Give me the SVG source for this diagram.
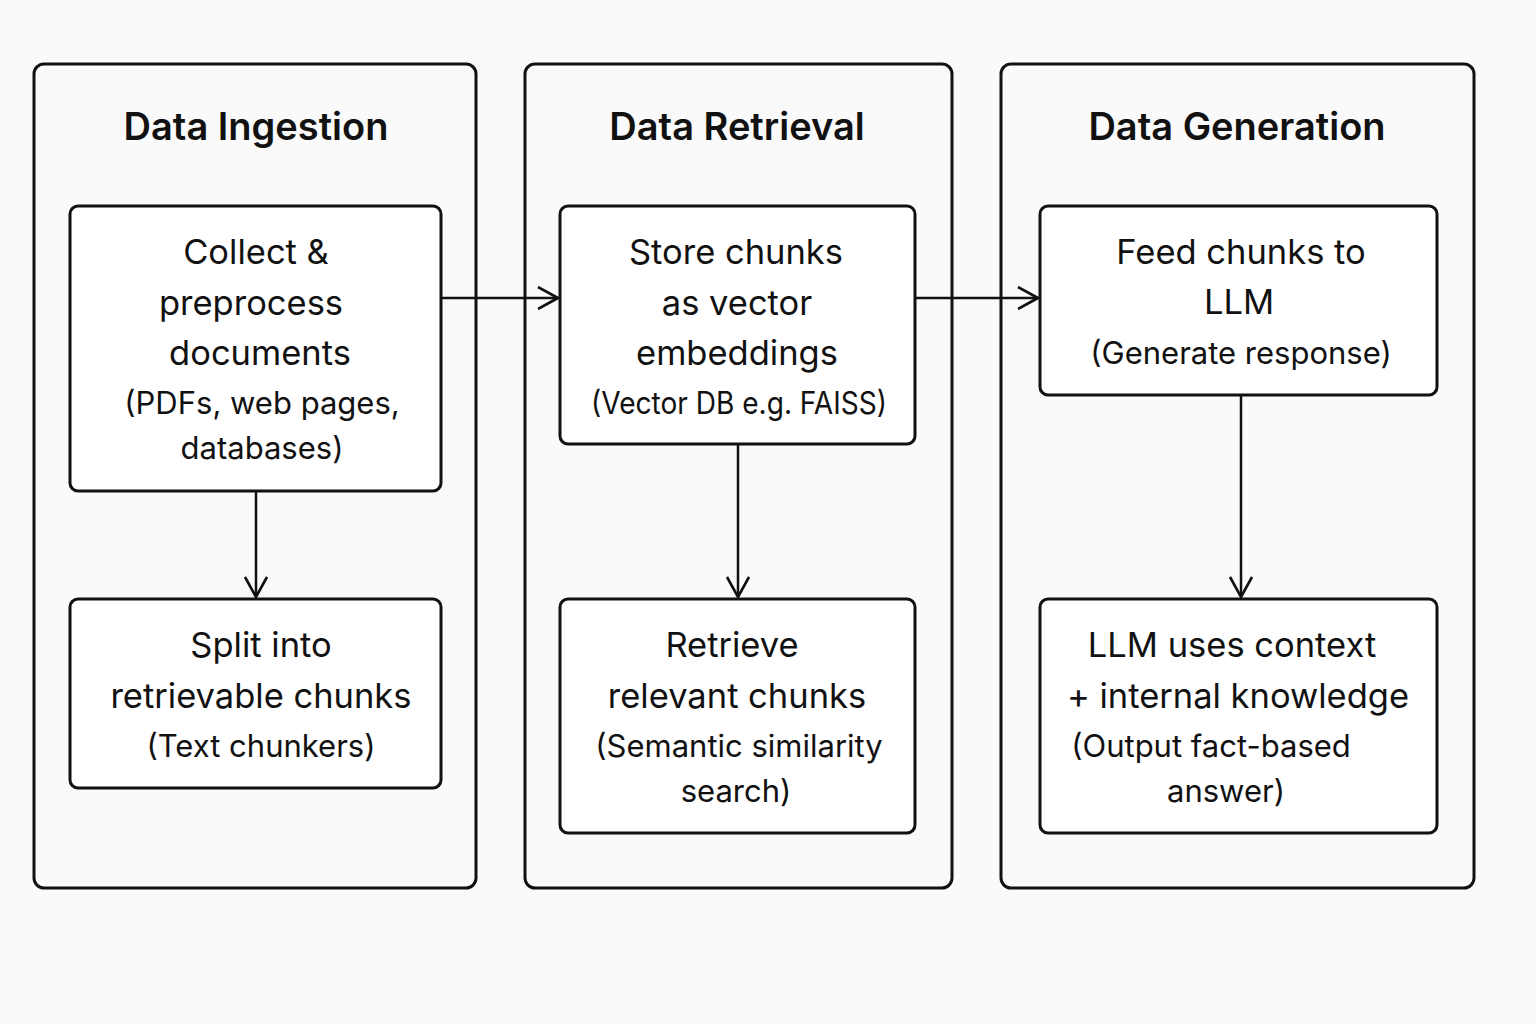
<svg xmlns="http://www.w3.org/2000/svg" width="1536" height="1024" viewBox="0 0 1536 1024">
<defs>
<style>
.panel{fill:none;stroke:#111;stroke-width:3}
.node{fill:#fff;stroke:#111;stroke-width:3}
.title{font-family:Inter,"Liberation Sans",sans-serif;font-size:38px;font-weight:600;fill:#111;text-anchor:middle}
.t{font-family:Inter,"Liberation Sans",sans-serif;font-size:34.5px;fill:#111;text-anchor:middle}
.s{font-family:Inter,"Liberation Sans",sans-serif;font-size:31px;fill:#111;text-anchor:middle}
.edge{fill:none;stroke:#111;stroke-width:2.5}
</style>
<marker id="arrbig" viewBox="0 0 24 24" refX="22" refY="12" markerWidth="24" markerHeight="24" markerUnits="userSpaceOnUse" orient="auto">
<path d="M2,1 L22,12 L2,23" fill="none" stroke="#111" stroke-width="2.6"/>
</marker>
</defs>
<rect width="1536" height="1024" fill="#fafafa"/>
<g id="panel-ingestion">
<rect class="panel" x="34" y="64" width="442" height="824" rx="10"/>
<text class="title" x="256" y="140">Data Ingestion</text>
</g>
<g id="panel-retrieval">
<rect class="panel" x="525" y="64" width="427" height="824" rx="10"/>
<text class="title" x="737" y="140">Data Retrieval</text>
</g>
<g id="panel-generation">
<rect class="panel" x="1001" y="64" width="473" height="824" rx="10"/>
<text class="title" x="1237" y="140">Data Generation</text>
</g>
<g id="connectors">
<line class="edge" x1="441" y1="298" x2="558" y2="298" marker-end="url(#arrbig)"/>
<line class="edge" x1="915" y1="298" x2="1038" y2="298" marker-end="url(#arrbig)"/>
<line class="edge" x1="256" y1="491" x2="256" y2="597" marker-end="url(#arrbig)"/>
<line class="edge" x1="738" y1="444" x2="738" y2="597" marker-end="url(#arrbig)"/>
<line class="edge" x1="1241" y1="395" x2="1241" y2="597" marker-end="url(#arrbig)"/>
</g>
<g id="node-collect">
<rect class="node" x="70" y="206" width="371" height="285" rx="8"/>
<text class="t" x="256" y="264">Collect &amp;</text>
<text class="t" x="251" y="315">preprocess</text>
<text class="t" x="260" y="365">documents</text>
<text class="s" x="262" y="414">(PDFs, web pages,</text>
<text class="s" x="262" y="459">databases)</text>
</g>
<g id="node-split">
<rect class="node" x="70" y="599" width="371" height="189" rx="8"/>
<text class="t" x="261" y="657">Split into</text>
<text class="t" x="261" y="708">retrievable chunks</text>
<text class="s" x="261" y="757">(Text chunkers)</text>
</g>
<g id="node-store">
<rect class="node" x="560" y="206" width="355" height="238" rx="8"/>
<text class="t" x="736" y="264">Store chunks</text>
<text class="t" x="737" y="315">as vector</text>
<text class="t" x="737" y="365">embeddings</text>
<text class="s" x="739" y="414" textLength="296" lengthAdjust="spacingAndGlyphs">(Vector DB e.g. FAISS)</text>
</g>
<g id="node-retrieve">
<rect class="node" x="560" y="599" width="355" height="234" rx="8"/>
<text class="t" x="732" y="657">Retrieve</text>
<text class="t" x="737" y="708">relevant chunks</text>
<text class="s" x="739" y="757">(Semantic similarity</text>
<text class="s" x="736" y="802">search)</text>
</g>
<g id="node-feed">
<rect class="node" x="1040" y="206" width="397" height="189" rx="8"/>
<text class="t" x="1241" y="264">Feed chunks to</text>
<text class="t" x="1239" y="314">LLM</text>
<text class="s" x="1241" y="364">(Generate response)</text>
</g>
<g id="node-llm">
<rect class="node" x="1040" y="599" width="397" height="234" rx="8"/>
<text class="t" x="1232" y="657">LLM uses context</text>
<text class="t" x="1238" y="708">+ internal knowledge</text>
<text class="s" x="1211" y="757">(Output fact-based</text>
<text class="s" x="1226" y="802">answer)</text>
</g>
</svg>
